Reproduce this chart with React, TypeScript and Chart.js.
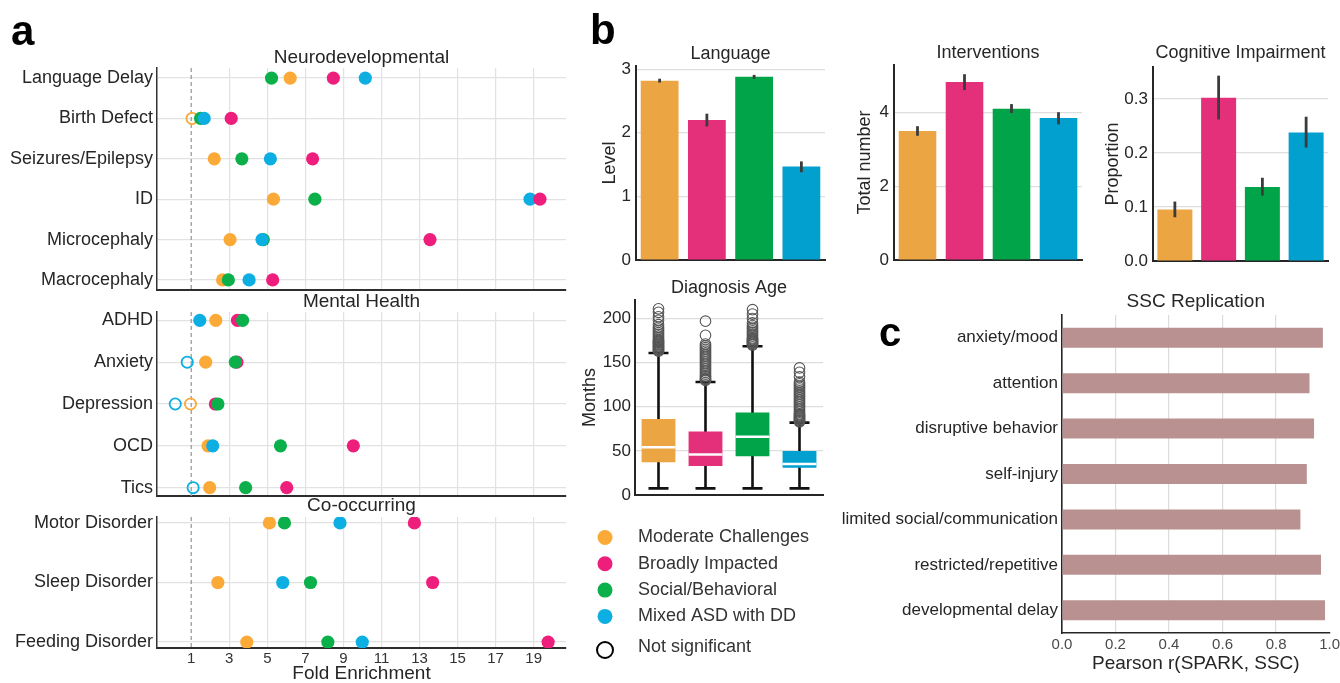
import React, { useEffect, useRef } from "react";
import { Chart, registerables } from "chart.js";

Chart.register(...registerables);

const FONT = "'Liberation Sans', Arial, Helvetica, sans-serif";
const INK = "#262626";
Chart.defaults.font.family = FONT;
Chart.defaults.color = INK;

// ---------- shared ----------
const GROUPS = ["Moderate Challenges", "Broadly Impacted", "Social/Behavioral", "Mixed ASD with DD"];
const DOT_COLORS = ["#FBA937", "#EE1E7C", "#0BB04B", "#0DAEE2"];
const BAR_COLORS = ["#EBA543", "#E42F7B", "#02A449", "#02A0CE"];

// ---------- panel a : fold enrichment ----------
const FOLD_TICKS = [1, 3, 5, 7, 9, 11, 13, 15, 17, 19];

const NEURO_LABELS = ["Language Delay", "Birth Defect", "Seizures/Epilepsy", "ID", "Microcephaly", "Macrocephaly"];
const NEURO_MODERATE = [6.2, 1.04, 2.21, 5.32, 3.04, 2.65];
const NEURO_BROAD = [8.47, 3.1, 7.38, 19.33, 13.55, 5.28];
const NEURO_SOCIAL = [5.22, 1.49, 3.66, 7.5, 4.79, 2.95];
const NEURO_MIXED = [10.15, 1.68, 5.16, 18.81, 4.72, 4.04];

const MENTAL_LABELS = ["ADHD", "Anxiety", "Depression", "OCD", "Tics"];
const MENTAL_MODERATE = [2.29, 1.76, 0.96, 1.88, 1.97];
const MENTAL_BROAD = [3.43, 3.4, 2.27, 9.52, 6.02];
const MENTAL_SOCIAL = [3.7, 3.32, 2.4, 5.69, 3.86];
const MENTAL_MIXED = [1.45, 0.79, 0.16, 2.13, 1.1];

const COOC_LABELS = ["Motor Disorder", "Sleep Disorder", "Feeding Disorder"];
const COOC_MODERATE = [5.11, 2.4, 3.92];
const COOC_BROAD = [12.73, 13.69, 19.76];
const COOC_SOCIAL = [5.9, 7.27, 8.18];
const COOC_MIXED = [8.82, 5.81, 9.99];

const NOT_SIGNIFICANT: Record<string, string[]> = {
  "Moderate Challenges": ["Birth Defect", "Depression"],
  "Mixed ASD with DD": ["Anxiety", "Depression", "Tics"],
};

// ---------- panel b : bars ----------
const LANG_TICKS = [0, 1, 2, 3];
const LANG_MEAN = [2.82, 2.2, 2.88, 1.47];
const LANG_LO = [2.79, 2.1, 2.85, 1.38];
const LANG_HI = [2.85, 2.3, 2.91, 1.55];

const INTERV_TICKS = [0, 2, 4];
const INTERV_MEAN = [3.5, 4.83, 4.1, 3.85];
const INTERV_LO = [3.37, 4.61, 3.99, 3.68];
const INTERV_HI = [3.63, 5.04, 4.23, 4.01];

const COG_TICKS = [0, 0.1, 0.2, 0.3];
const COG_MEAN = [0.0955, 0.302, 0.137, 0.238];
const COG_LO = [0.081, 0.262, 0.121, 0.21];
const COG_HI = [0.11, 0.343, 0.154, 0.267];

// ---------- panel b : diagnosis age boxes ----------
const AGE_TICKS = [0, 50, 100, 150, 200];
const AGE_WHISK_LO = [7.5, 7.5, 7.5, 7.5];
const AGE_Q1 = [37, 33, 44, 31];
const AGE_MEDIAN = [54, 46, 66, 35];
const AGE_Q3 = [86, 72, 93.6, 50];
const AGE_WHISK_HI = [161, 128, 168.6, 82];
const AGE_OUT_MODERATE = [163, 164, 165, 166, 167, 168, 169, 170, 171, 172, 173, 174, 175, 176, 178, 180, 182, 184, 186, 188, 190, 193, 198, 202, 207, 211];
const AGE_OUT_BROAD = [130, 131, 132, 134, 135, 137, 139, 141, 143, 145, 147, 149, 151, 153, 155, 157, 159, 161, 163, 165, 167, 169, 171, 181, 197];
const AGE_OUT_SOCIAL = [170, 171, 172, 173, 174, 175, 176, 177, 178, 180, 182, 184, 186, 188, 190, 192, 195, 200, 205, 210];
const AGE_OUT_MIXED = [83, 84, 85, 86, 87, 88, 89, 90, 91, 92, 94, 96, 98, 100, 102, 104, 106, 108, 110, 112, 114, 116, 118, 120, 122, 124, 126, 128, 134, 139, 144];

// ---------- panel c ----------
const SSC_LABELS = ["anxiety/mood", "attention", "disruptive behavior", "self-injury", "limited social/communication", "restricted/repetitive", "developmental delay"];
const SSC_R = [0.975, 0.925, 0.942, 0.915, 0.891, 0.968, 0.983];
const PEARSON_TICKS = [0, 0.2, 0.4, 0.6, 0.8, 1.0];

// ---------- helpers ----------
const fixWidth = (w: number) => (scale: any) => { scale.width = w; };
const fixHeight = (h: number) => (scale: any) => { scale.height = h; };
const setTicks = (values: number[]) => (scale: any) => { scale.ticks = values.map((value) => ({ value })); };
const hideAt = (vals: number[], color: string) => (ctx: any) =>
  ctx.tick && vals.some((v) => Math.abs(v - ctx.tick.value) < 1e-9) ? "rgba(0,0,0,0)" : color;

function titlePlugin(text: string, offset: number, size: number) {
  return {
    id: "panelTitle",
    afterDraw(chart: any) {
      const { ctx, chartArea } = chart;
      ctx.save();
      ctx.font = `${size}px ${FONT}`;
      ctx.fillStyle = INK;
      ctx.textAlign = "center";
      ctx.textBaseline = "middle";
      ctx.fillText(text, (chartArea.left + chartArea.right) / 2, chartArea.top - offset);
      ctx.restore();
    },
  };
}

function letterPlugin(letter: string, x: number, y: number, size: number) {
  return {
    id: "panelLetter",
    afterDraw(chart: any) {
      const { ctx } = chart;
      ctx.save();
      ctx.font = `bold ${size}px ${FONT}`;
      ctx.fillStyle = "#000";
      ctx.textAlign = "left";
      ctx.textBaseline = "alphabetic";
      ctx.fillText(letter, x, y);
      ctx.restore();
    },
  };
}

function errorBarPlugin(lo: number[], hi: number[]) {
  return {
    id: "errorBars",
    afterDatasetsDraw(chart: any) {
      const { ctx } = chart;
      const ys = chart.scales.y;
      const meta = chart.getDatasetMeta(0);
      ctx.save();
      ctx.strokeStyle = "#3b3b3b";
      ctx.lineWidth = 2.8;
      meta.data.forEach((bar: any, i: number) => {
        ctx.beginPath();
        ctx.moveTo(bar.x, ys.getPixelForValue(lo[i]));
        ctx.lineTo(bar.x, ys.getPixelForValue(hi[i]));
        ctx.stroke();
      });
      ctx.restore();
    },
  };
}

const boxPlugin = {
  id: "boxParts",
  beforeDatasetsDraw(chart: any) {
    const { ctx } = chart;
    const xs = chart.scales.x;
    const ys = chart.scales.y;
    ctx.save();
    ctx.strokeStyle = "#111";
    ctx.lineWidth = 2.6;
    GROUPS.forEach((_, i) => {
      const x = xs.getPixelForValue(i);
      const lo = ys.getPixelForValue(AGE_WHISK_LO[i]);
      const hi = ys.getPixelForValue(AGE_WHISK_HI[i]);
      ctx.beginPath();
      ctx.moveTo(x, lo);
      ctx.lineTo(x, hi);
      ctx.moveTo(x - 10, lo);
      ctx.lineTo(x + 10, lo);
      ctx.moveTo(x - 10, hi);
      ctx.lineTo(x + 10, hi);
      ctx.stroke();
    });
    ctx.restore();
  },
  afterDatasetsDraw(chart: any) {
    const { ctx } = chart;
    const ys = chart.scales.y;
    const meta = chart.getDatasetMeta(0);
    ctx.save();
    ctx.strokeStyle = "#fff";
    ctx.lineWidth = 2.5;
    meta.data.forEach((bar: any, i: number) => {
      const y = ys.getPixelForValue(AGE_MEDIAN[i]);
      ctx.beginPath();
      ctx.moveTo(bar.x - bar.width / 2, y);
      ctx.lineTo(bar.x + bar.width / 2, y);
      ctx.stroke();
    });
    ctx.restore();
  },
};

const legendPlugin = {
  id: "groupLegend",
  afterDraw(chart: any) {
    const { ctx } = chart;
    ctx.save();
    ctx.font = `18px ${FONT}`;
    ctx.textAlign = "left";
    ctx.textBaseline = "middle";
    GROUPS.forEach((g, i) => {
      const y = 262.5 + i * 26.3;
      ctx.beginPath();
      ctx.arc(25, y, 7.5, 0, Math.PI * 2);
      ctx.fillStyle = DOT_COLORS[i];
      ctx.fill();
      ctx.fillStyle = "#333";
      ctx.fillText(g, 58, y);
    });
    ctx.beginPath();
    ctx.arc(25, 375, 8, 0, Math.PI * 2);
    ctx.strokeStyle = "#000";
    ctx.lineWidth = 2;
    ctx.stroke();
    ctx.fillStyle = "#333";
    ctx.fillText("Not significant", 58, 372);
    ctx.restore();
  },
};

const baseOptions = (padding: any) => ({
  responsive: false,
  animation: false as const,
  devicePixelRatio: 1,
  events: [] as any[],
  layout: { padding },
  plugins: { legend: { display: false }, tooltip: { enabled: false }, title: { display: false } },
});

function dotConfig(
  labels: string[],
  series: number[][],
  order: number[],
  title: string,
  titleOffset: number,
  padding: any,
  showX: boolean,
  xHeight: number,
  extra: any[]
): any {
  const margin = 0.05 * (labels.length - 1);
  const ns = (g: string, l: string) => (NOT_SIGNIFICANT[g] || []).includes(l);
  const datasets: any[] = [
    {
      data: [
        { x: 1, y: -margin },
        { x: 1, y: labels.length - 1 + margin },
      ],
      showLine: true,
      borderColor: "#9c9c9c",
      borderWidth: 1.3,
      borderDash: [4, 3],
      pointRadius: 0,
      order: 10,
    },
    ...GROUPS.map((g, gi) => ({
      label: g,
      data: series[gi].map((v, i) => ({ x: v, y: i })),
      pointRadius: labels.map((l) => (ns(g, l) ? 5.6 : 6.6)),
      pointBackgroundColor: labels.map((l) => (ns(g, l) ? "rgba(255,255,255,0)" : DOT_COLORS[gi])),
      pointBorderColor: DOT_COLORS[gi],
      pointBorderWidth: labels.map((l) => (ns(g, l) ? 1.8 : 0)),
      order: order[gi],
    })),
  ];
  return {
    type: "scatter",
    data: { datasets },
    options: {
      ...baseOptions(padding),
      scales: {
        x: {
          type: "linear",
          min: -0.8,
          max: 20.7,
          afterBuildTicks: setTicks(FOLD_TICKS),
          afterFit: fixHeight(xHeight),
          grid: { color: hideAt([1], "#e2e2e2"), lineWidth: 1.2, drawTicks: false },
          border: { color: "#2e2e2e", width: 2 },
          ticks: { display: showX, autoSkip: false, maxRotation: 0, padding: 2, color: "#333", font: { size: 15 } },
          title: {
            display: showX,
            text: "Fold Enrichment",
            color: INK,
            font: { size: 19, lineHeight: 1 },
            padding: { top: 0, bottom: 0 },
          },
        },
        y: {
          type: "linear",
          reverse: true,
          min: -margin,
          max: labels.length - 1 + margin,
          afterBuildTicks: setTicks(labels.map((_, i) => i)),
          afterFit: fixWidth(157),
          grid: { color: "#e2e2e2", lineWidth: 1.2, drawTicks: false },
          border: { color: "#333", width: 1.5 },
          ticks: { autoSkip: false, padding: 4, color: INK, font: { size: 18 }, callback: (v: any) => labels[v] },
        },
      },
    },
    plugins: [titlePlugin(title, titleOffset, 19), ...extra],
  };
}

function barConfig(
  mean: number[],
  lo: number[],
  hi: number[],
  ticks: number[],
  max: number,
  decimals: number,
  yTitle: string,
  yTitlePad: number,
  yWidth: number,
  title: string,
  titleOffset: number,
  padding: any,
  extra: any[]
): any {
  return {
    type: "bar",
    data: {
      labels: GROUPS,
      datasets: [
        {
          data: mean,
          backgroundColor: BAR_COLORS,
          categoryPercentage: 0.8,
          barPercentage: 1,
          borderWidth: 0,
        },
      ],
    },
    options: {
      ...baseOptions(padding),
      scales: {
        x: {
          ticks: { display: false },
          grid: { display: false, drawTicks: false },
          border: { color: INK, width: 2 },
          afterFit: fixHeight(0),
        },
        y: {
          min: 0,
          max,
          afterBuildTicks: setTicks(ticks),
          afterFit: fixWidth(yWidth),
          grid: { color: hideAt([0], "#dedede"), lineWidth: 1.2, drawTicks: false },
          border: { color: INK, width: 2 },
          ticks: { padding: 5, color: INK, font: { size: 17 }, callback: (v: any) => Number(v).toFixed(decimals) },
          title: {
            display: true,
            text: yTitle,
            color: INK,
            font: { size: 18, lineHeight: 1 },
            padding: { top: yTitlePad, bottom: 0 },
          },
        },
      },
    },
    plugins: [errorBarPlugin(lo, hi), titlePlugin(title, titleOffset, 18), ...extra],
  };
}

function ageConfig(): any {
  const outliers = [AGE_OUT_MODERATE, AGE_OUT_BROAD, AGE_OUT_SOCIAL, AGE_OUT_MIXED];
  return {
    type: "bar",
    data: {
      labels: GROUPS,
      datasets: [
        {
          type: "bar",
          data: GROUPS.map((_, i) => [AGE_Q1[i], AGE_Q3[i]]),
          backgroundColor: BAR_COLORS,
          categoryPercentage: 0.72,
          barPercentage: 1,
          borderWidth: 0,
          order: 2,
        },
        {
          type: "scatter",
          data: GROUPS.flatMap((g, i) => outliers[i].map((v) => ({ x: g, y: v }))),
          pointRadius: 5.3,
          pointBackgroundColor: "rgba(255,255,255,0)",
          pointBorderColor: "#555",
          pointBorderWidth: 1.1,
          order: 1,
        },
      ],
    },
    options: {
      ...baseOptions({ left: 0, top: 25, right: 12, bottom: 180 }),
      scales: {
        x: {
          type: "category",
          offset: true,
          ticks: { display: false },
          grid: { display: false, drawTicks: false },
          border: { color: INK, width: 2 },
          afterFit: fixHeight(0),
        },
        y: {
          min: 0,
          max: 221,
          afterBuildTicks: setTicks(AGE_TICKS),
          afterFit: fixWidth(55),
          grid: { color: hideAt([0], "#dedede"), lineWidth: 1.2, drawTicks: false },
          border: { color: INK, width: 2 },
          ticks: { padding: 4, color: INK, font: { size: 17 } },
          title: {
            display: true,
            text: "Months",
            color: INK,
            font: { size: 18, lineHeight: 1 },
            padding: { top: 1, bottom: 0 },
          },
        },
      },
    },
    plugins: [boxPlugin, titlePlugin("Diagnosis Age", 12, 18), legendPlugin],
  };
}

function sscConfig(): any {
  return {
    type: "bar",
    data: {
      labels: SSC_LABELS,
      datasets: [
        {
          data: SSC_R,
          backgroundColor: "#B99190",
          barPercentage: 0.44,
          categoryPercentage: 1,
          borderWidth: 0,
        },
      ],
    },
    options: {
      ...baseOptions({ left: 0, top: 30, right: 13, bottom: 0 }),
      indexAxis: "y",
      scales: {
        x: {
          type: "linear",
          min: 0,
          max: 1,
          afterBuildTicks: setTicks(PEARSON_TICKS),
          afterFit: fixHeight(50),
          grid: { color: hideAt([0, 1], "#dcdcdc"), lineWidth: 1.2, drawTicks: false },
          border: { color: INK, width: 1.6 },
          ticks: { padding: 3, color: "#4a4a4a", font: { size: 15 }, maxRotation: 0, autoSkip: false, callback: (v: any) => Number(v).toFixed(1) },
          title: {
            display: true,
            text: "Pearson r(SPARK, SSC)",
            color: INK,
            font: { size: 19, lineHeight: 1 },
            padding: { top: 0, bottom: 10 },
          },
        },
        y: {
          afterFit: fixWidth(227),
          grid: { display: false, drawTicks: false },
          border: { color: INK, width: 1.6 },
          ticks: { padding: 4, color: INK, font: { size: 17 }, autoSkip: false },
        },
      },
    },
    plugins: [titlePlugin("SSC Replication", 13, 19), letterPlugin("c", 44, 60.5, 40)],
  };
}

const CANVASES = [
  { key: "a1", left: 0, top: 0, w: 580, h: 306 },
  { key: "a2", left: 0, top: 290, w: 580, h: 222 },
  { key: "a3", left: 0, top: 495, w: 580, h: 188 },
  { key: "lang", left: 580, top: 0, w: 255, h: 277 },
  { key: "interv", left: 840, top: 0, w: 250, h: 277 },
  { key: "cog", left: 1090, top: 0, w: 250, h: 277 },
  { key: "age", left: 580, top: 275, w: 255, h: 400 },
  { key: "ssc", left: 835, top: 285, w: 508, h: 398 },
];

export default function App() {
  const refs = useRef<Record<string, HTMLCanvasElement | null>>({});

  useEffect(() => {
    document.body.style.margin = "0";
    const r = refs.current;
    const configs: Record<string, any> = {
      a1: dotConfig(
        NEURO_LABELS,
        [NEURO_MODERATE, NEURO_BROAD, NEURO_SOCIAL, NEURO_MIXED],
        [4, 1, 3, 2],
        "Neurodevelopmental",
        10,
        { left: 0, top: 68, right: 14, bottom: 16 },
        false,
        0,
        [letterPlugin("a", 11, 44.5, 42)]
      ),
      a2: dotConfig(
        MENTAL_LABELS,
        [MENTAL_MODERATE, MENTAL_BROAD, MENTAL_SOCIAL, MENTAL_MIXED],
        [4, 3, 2, 1],
        "Mental Health",
        10,
        { left: 0, top: 22, right: 14, bottom: 16 },
        false,
        0,
        []
      ),
      a3: dotConfig(
        COOC_LABELS,
        [COOC_MODERATE, COOC_BROAD, COOC_SOCIAL, COOC_MIXED],
        [4, 1, 3, 2],
        "Co-occurring",
        11,
        { left: 0, top: 22, right: 14, bottom: 0 },
        true,
        35,
        []
      ),
      lang: barConfig(LANG_MEAN, LANG_LO, LANG_HI, LANG_TICKS, 3.05, 0, "Level", 21, 56, "Language", 12,
        { left: 0, top: 66, right: 10, bottom: 17 }, [letterPlugin("b", 10, 44, 42)]),
      interv: barConfig(INTERV_MEAN, INTERV_LO, INTERV_HI, INTERV_TICKS, 5.29, 0, "Total number", 16, 54, "Interventions", 12,
        { left: 0, top: 65, right: 8, bottom: 17 }, []),
      cog: barConfig(COG_MEAN, COG_LO, COG_HI, COG_TICKS, 0.359, 1, "Proportion", 14, 63, "Cognitive Impairment", 14,
        { left: 0, top: 67, right: 12, bottom: 16 }, []),
      age: ageConfig(),
      ssc: sscConfig(),
    };
    const charts: Chart[] = [];
    CANVASES.forEach((c) => {
      const el = r[c.key];
      if (el) charts.push(new Chart(el, configs[c.key]));
    });
    return () => charts.forEach((ch) => ch.destroy());
  }, []);

  return (
    <div
      style={{
        position: "absolute",
        left: 0,
        top: 0,
        width: 1340,
        height: 683,
        overflow: "hidden",
        background: "#fff",
      }}
    >
      {CANVASES.map((c) => (
        <canvas
          key={c.key}
          ref={(el) => {
            refs.current[c.key] = el;
          }}
          width={c.w}
          height={c.h}
          style={{ position: "absolute", left: c.left, top: c.top, width: c.w, height: c.h, display: "block" }}
        />
      ))}
    </div>
  );
}
